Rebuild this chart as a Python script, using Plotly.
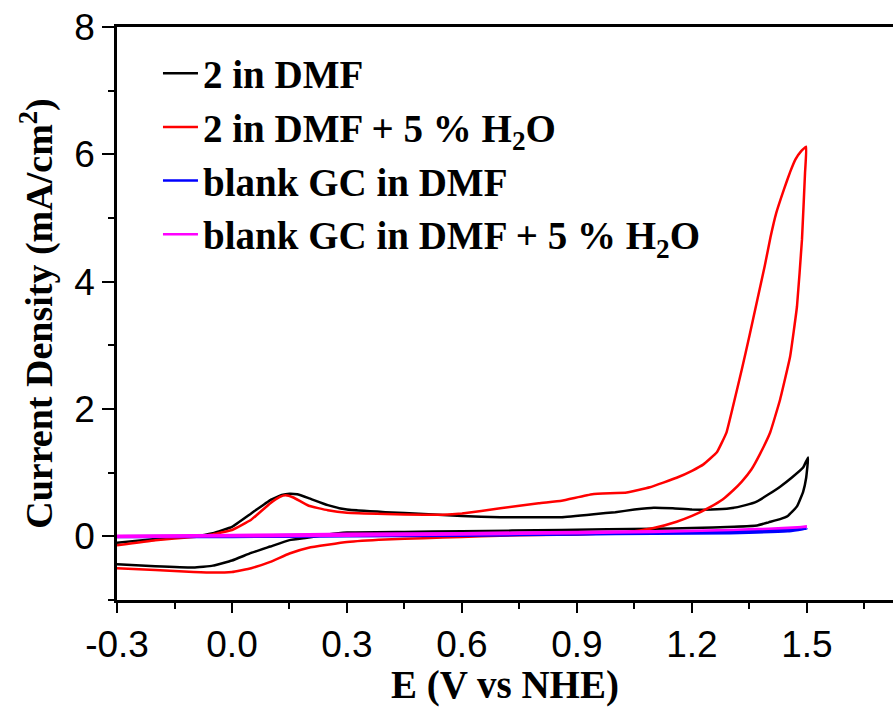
import plotly.graph_objects as go

# ---- data ----
# 2 in DMF : anodic sweep followed by cathodic return
e_2dmf = [-0.3, -0.2, -0.1, -0.05, 0.0, 0.05, 0.1, 0.13, 0.15, 0.17, 0.2, 0.25, 0.3, 0.4, 0.5,
          0.6, 0.7, 0.8, 0.86, 0.95, 1.0, 1.05, 1.1, 1.15, 1.2, 1.25, 1.3, 1.34, 1.37, 1.4,
          1.43, 1.46, 1.49, 1.503,
          1.498, 1.49, 1.474, 1.45, 1.43, 1.4, 1.37, 1.31, 1.2, 1.1, 0.86, 0.6, 0.45, 0.3,
          0.25, 0.2, 0.15, 0.1, 0.05, 0.0, -0.05, -0.1, -0.2, -0.3]
j_2dmf = [-0.10, -0.04, 0.0, 0.05, 0.15, 0.36, 0.57, 0.65, 0.67, 0.66, 0.60, 0.49, 0.42, 0.38, 0.35,
          0.32, 0.30, 0.30, 0.30, 0.35, 0.38, 0.42, 0.45, 0.44, 0.42, 0.42, 0.44, 0.49, 0.55, 0.66,
          0.78, 0.92, 1.08, 1.24,
          0.92, 0.70, 0.47, 0.32, 0.27, 0.22, 0.17, 0.15, 0.13, 0.12, 0.10, 0.08, 0.07, 0.06,
          0.03, -0.02, -0.06, -0.16, -0.26, -0.38, -0.46, -0.49, -0.47, -0.44]

# 2 in DMF + 5 % H2O
e_2h2o = [-0.3, -0.2, -0.1, -0.05, 0.0, 0.05, 0.1, 0.125, 0.14, 0.16, 0.2, 0.25, 0.3, 0.4, 0.5,
          0.55, 0.6, 0.7, 0.8, 0.86, 0.94, 1.03, 1.09, 1.16, 1.2, 1.23, 1.265, 1.29, 1.307, 1.33,
          1.35, 1.37, 1.39, 1.405, 1.42, 1.44, 1.456, 1.47, 1.485, 1.498,
          1.495, 1.487, 1.474, 1.456, 1.43, 1.404, 1.378, 1.355, 1.33, 1.307, 1.28, 1.247, 1.2,
          1.16, 1.1, 1.05, 1.0, 0.9, 0.8, 0.7, 0.6, 0.5, 0.4, 0.3, 0.2, 0.15, 0.1, 0.05, 0.0,
          -0.05, -0.1, -0.2, -0.3]
j_2h2o = [-0.14, -0.06, -0.01, 0.03, 0.10, 0.26, 0.52, 0.62, 0.645, 0.61, 0.48, 0.41, 0.37, 0.35, 0.34,
          0.34, 0.36, 0.44, 0.52, 0.56, 0.66, 0.69, 0.77, 0.92, 1.03, 1.13, 1.32, 1.63, 2.04, 2.62,
          3.15, 3.70, 4.25, 4.70, 5.08, 5.45, 5.72, 5.92, 6.05, 6.12,
          5.71, 4.66, 3.61, 2.82, 2.15, 1.63, 1.30, 1.05, 0.86, 0.72, 0.58, 0.46, 0.32,
          0.23, 0.13, 0.08, 0.05, 0.03, 0.02, 0.01, -0.01, -0.03, -0.05, -0.09, -0.18, -0.27, -0.40, -0.50, -0.56,
          -0.57, -0.56, -0.53, -0.50]

# blank GC in DMF
e_blank = [-0.3, 0.0, 0.3, 0.6, 0.9, 1.1, 1.3, 1.4, 1.5, 1.45, 1.3, 1.1, 0.9, 0.6, 0.3, 0.0, -0.3]
j_blank = [0.0, 0.01, 0.03, 0.04, 0.05, 0.06, 0.08, 0.10, 0.12, 0.08, 0.05, 0.04, 0.03, 0.01, 0.0, -0.01, -0.01]

# blank GC in DMF + 5 % H2O
e_blank_h2o = [-0.3, 0.0, 0.3, 0.6, 0.9, 1.1, 1.3, 1.4, 1.5, 1.45, 1.3, 1.1, 0.9, 0.6, 0.3, 0.0, -0.3]
j_blank_h2o = [0.01, 0.02, 0.04, 0.05, 0.07, 0.08, 0.10, 0.12, 0.15, 0.13, 0.10, 0.07, 0.05, 0.03, 0.01, 0.0, -0.01]

series_names = ["2 in DMF", "2 in DMF + 5 % H<sub>2</sub>O",
                "blank GC in DMF", "blank GC in DMF + 5 % H<sub>2</sub>O"]
series_colors = ["#000000", "#ff0000", "#0000ff", "#ff00ff"]

x_tick_vals = [-0.3, 0.0, 0.3, 0.6, 0.9, 1.2, 1.5]
x_tick_text = ["-0.3", "0.0", "0.3", "0.6", "0.9", "1.2", "1.5"]
y_tick_vals = [0, 2, 4, 6, 8]
y_tick_text = ["0", "2", "4", "6", "8"]

xs = [e_2dmf, e_2h2o, e_blank, e_blank_h2o]
ys = [j_2dmf, j_2h2o, j_blank, j_blank_h2o]

fig = go.Figure()
for i in range(4):
    fig.add_trace(go.Scatter(
        x=xs[i], y=ys[i], mode="lines", name=series_names[i],
        legendgroup=str(i),
        line=dict(color=series_colors[i], width=2.5, shape="spline", smoothing=0.3),
    ))

serif = "Liberation Serif, Times New Roman, serif"
sans = "Liberation Sans, Arial, sans-serif"

fig.update_layout(
    width=893, height=707,
    margin=dict(l=117, r=0, t=27, b=107),
    paper_bgcolor="white", plot_bgcolor="white",
    showlegend=True,
    legend=dict(
        x=0.0528, y=0.975, xanchor="left", yanchor="top",
        font=dict(family=serif, size=39, color="black", weight="bold"),
        bgcolor="rgba(0,0,0,0)", tracegroupgap=0, itemwidth=35,
    ),
    xaxis=dict(
        range=[-0.3, 1.7245], showline=True, linewidth=2.5, linecolor="black", mirror=True,
        showgrid=False, zeroline=False,
        tickmode="array", tickvals=x_tick_vals, ticktext=x_tick_text,
        ticks="outside", ticklen=10, tickwidth=2, tickcolor="black",
        minor=dict(ticks="outside", ticklen=6, tickwidth=2, tickcolor="black",
                   tickmode="linear", tick0=-0.15, dtick=0.3, showgrid=False),
        tickfont=dict(family=sans, size=37, color="black"),
        title=dict(text="E (V vs NHE)", standoff=5,
                   font=dict(family=serif, size=39, color="black", weight="bold")),
    ),
    yaxis=dict(
        range=[-1, 8], showline=True, linewidth=2.5, linecolor="black", mirror=False,
        showgrid=False, zeroline=False,
        tickmode="array", tickvals=y_tick_vals, ticktext=y_tick_text,
        ticks="outside", ticklen=12, tickwidth=2, tickcolor="black",
        minor=dict(ticks="outside", ticklen=6, tickwidth=2, tickcolor="black",
                   tickmode="linear", tick0=-1, dtick=2, showgrid=False),
        tickfont=dict(family=sans, size=37, color="black"),
        title=dict(text="Current Density (mA/cm<sup>2</sup>)", standoff=10,
                   font=dict(family=serif, size=38, color="black", weight="bold")),
    ),
)

fig.write_html("out.html")
